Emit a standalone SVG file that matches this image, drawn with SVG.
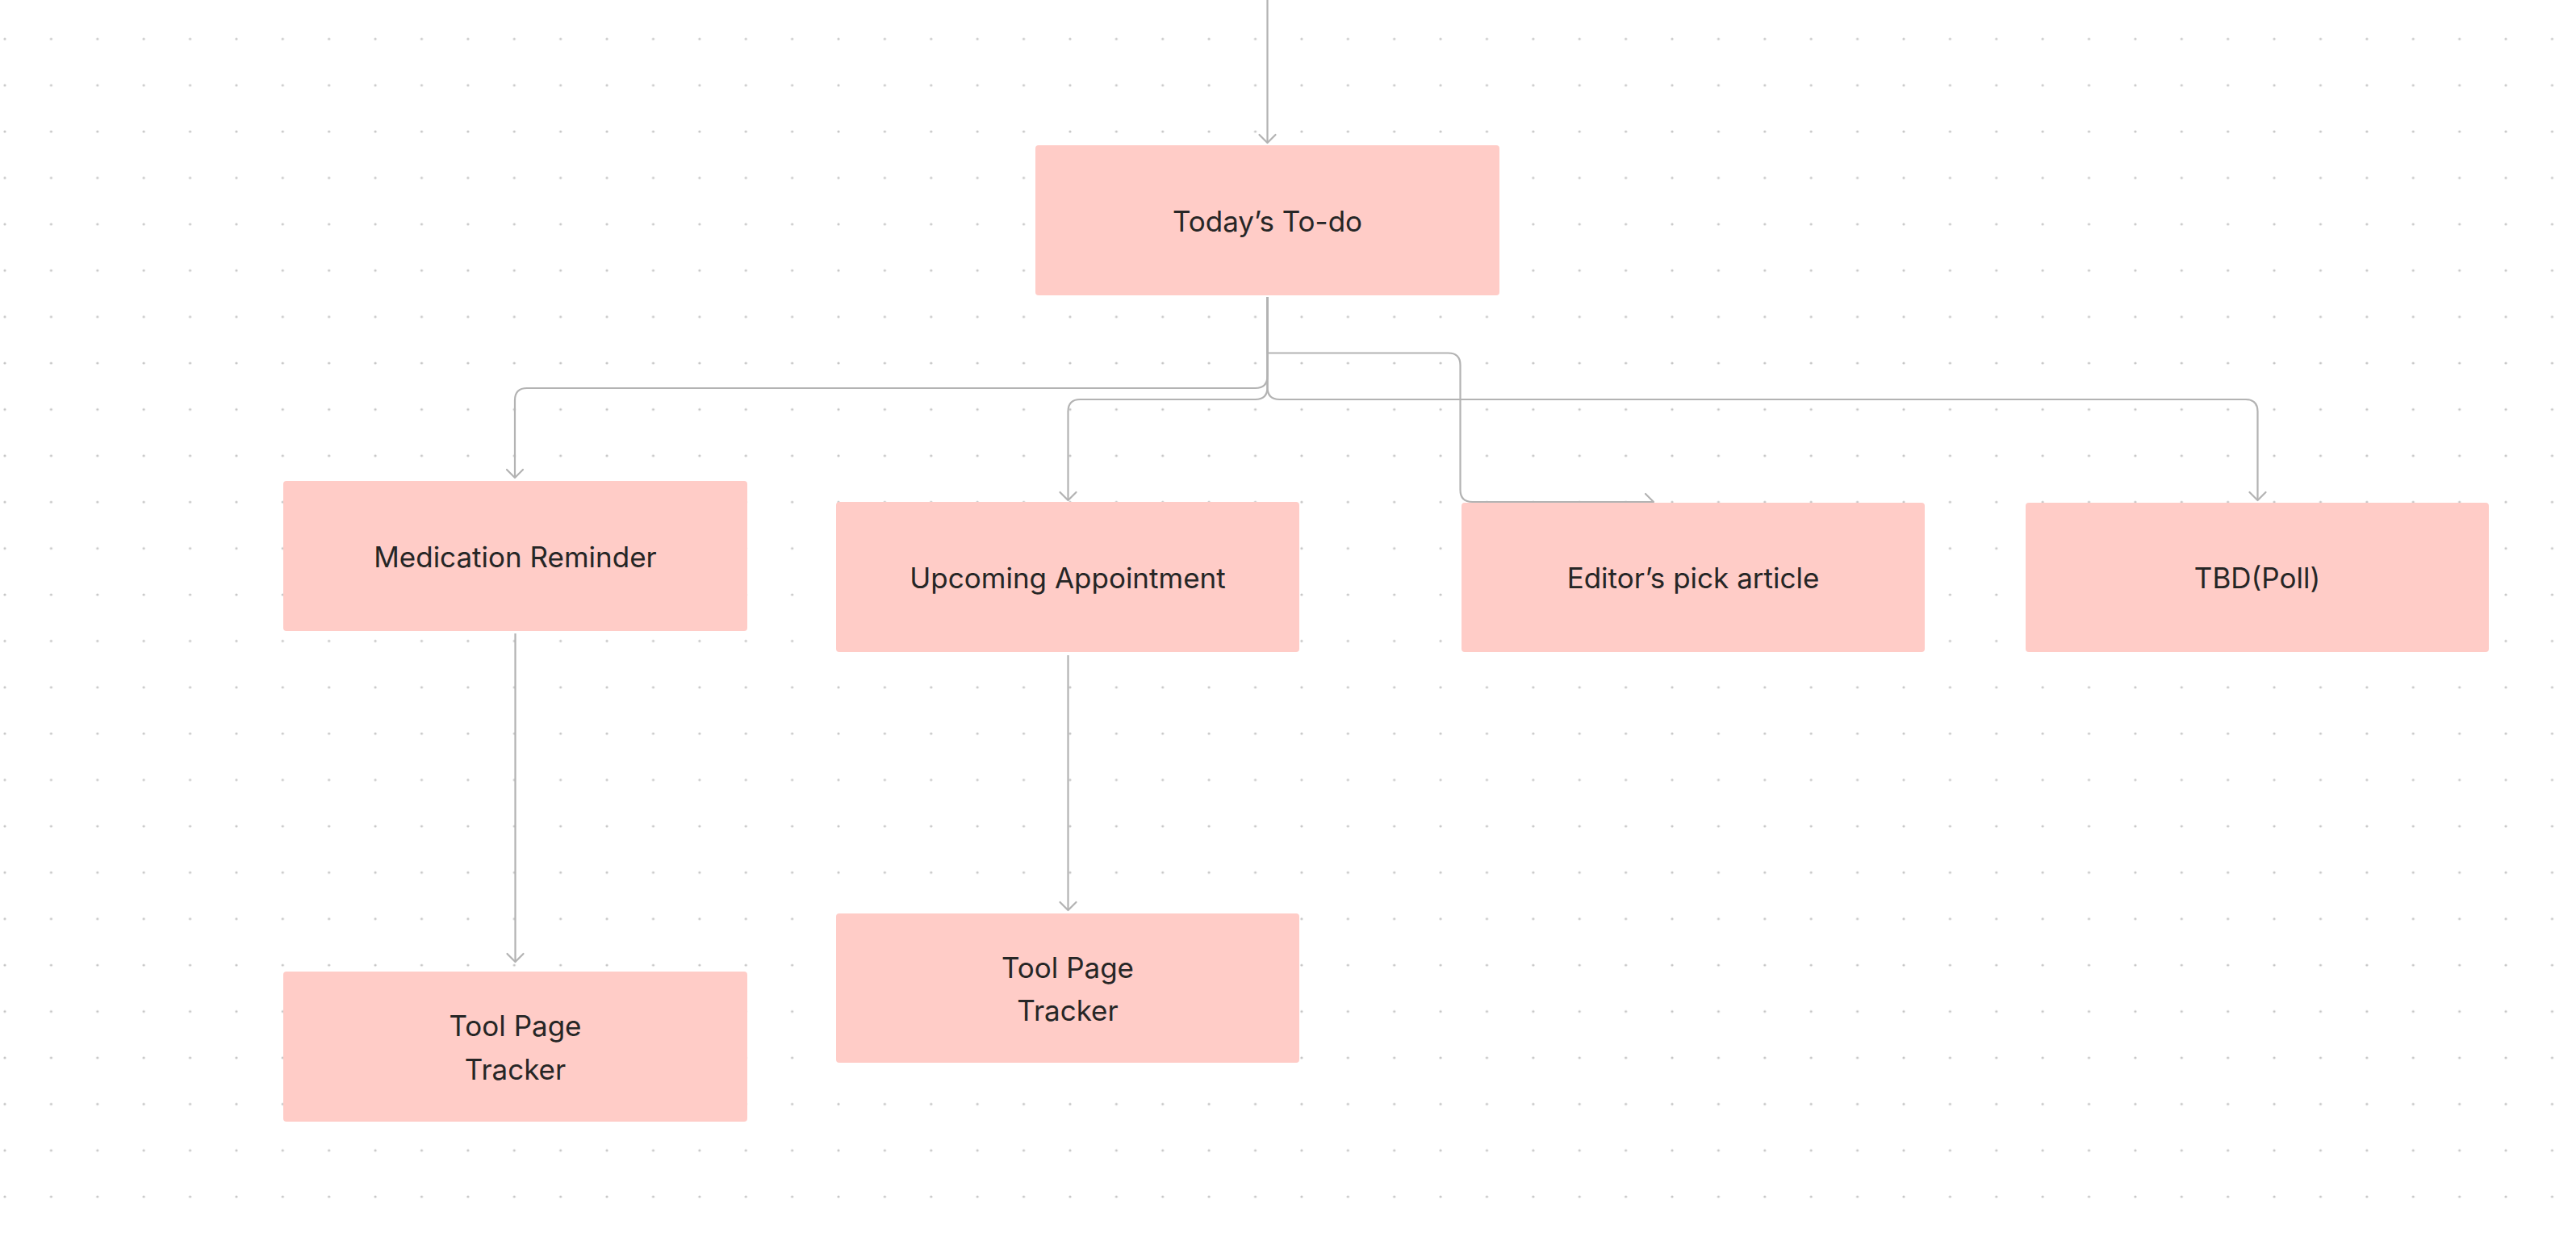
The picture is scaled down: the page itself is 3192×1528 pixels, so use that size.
<svg xmlns="http://www.w3.org/2000/svg" width="3192" height="1528" viewBox="0 0 3192 1528">
  <style>
    .box { fill: #ffccc7; }
    .lbl { font-family: Inter, "Liberation Sans", sans-serif; font-size: 35px; fill: #262626; text-anchor: middle; }
    .conn { fill: none; stroke: #b3b3b3; stroke-width: 2.2; stroke-linejoin: round; }
  </style>
  <defs>
    <pattern id="dots" patternUnits="userSpaceOnUse" x="-22.7" y="19.6" width="57.39" height="57.39">
      <circle cx="28.695" cy="28.695" r="1.6" fill="#c6c6c6"/>
    </pattern>
    <marker id="arrow" markerUnits="userSpaceOnUse" markerWidth="26" markerHeight="26" viewBox="-13 -13 26 26" refX="0" refY="0" orient="auto">
      <path d="M-10,-10 L0,0 L-10,10" fill="none" stroke="#b3b3b3" stroke-width="2.2" stroke-linecap="round" stroke-linejoin="round"/>
    </marker>
  </defs>

  <rect width="3192" height="1528" fill="#ffffff"/>
  <rect width="3192" height="1528" fill="url(#dots)"/>

  <g id="connectors">
    <path class="conn" d="M1570.5,0 V177" marker-end="url(#arrow)"/>
    <path class="conn" d="M1570.5,368 V466 Q1570.5,481 1555.5,481 H653 Q638,481 638,496 V592" marker-end="url(#arrow)"/>
    <path class="conn" d="M1570.5,368 V480 Q1570.5,495 1555.5,495 H1338.5 Q1323.5,495 1323.5,510 V620" marker-end="url(#arrow)"/>
    <path class="conn" d="M1570.5,368 V437.5 H1794.5 Q1809.5,437.5 1809.5,452.5 V607 Q1809.5,622 1824.5,622 H2049" marker-end="url(#arrow)"/>
    <path class="conn" d="M1570.5,368 V480 Q1570.5,495 1585.5,495 H2782.5 Q2797.5,495 2797.5,510 V620" marker-end="url(#arrow)"/>
    <path class="conn" d="M638.5,785 V1192" marker-end="url(#arrow)"/>
    <path class="conn" d="M1323.5,812 V1128" marker-end="url(#arrow)"/>
  </g>

  <g id="node-todo">
    <rect class="box" x="1283" y="180" width="575" height="186" rx="4"/>
    <text class="lbl" x="1570.5" y="286.5">Today’s To-do</text>
  </g>
  <g id="node-medication">
    <rect class="box" x="351" y="596" width="575" height="186" rx="4"/>
    <text class="lbl" x="638.5" y="702.5">Medication Reminder</text>
  </g>
  <g id="node-appointment">
    <rect class="box" x="1036" y="622" width="574" height="186" rx="4"/>
    <text class="lbl" x="1323" y="728.5">Upcoming Appointment</text>
  </g>
  <g id="node-editor">
    <rect class="box" x="1811" y="623" width="574" height="185" rx="4"/>
    <text class="lbl" x="2098" y="728.5">Editor’s pick article</text>
  </g>
  <g id="node-tbd">
    <rect class="box" x="2510" y="623" width="574" height="185" rx="4"/>
    <text class="lbl" x="2797" y="728.5">TBD(Poll)</text>
  </g>
  <g id="node-tool1">
    <rect class="box" x="351" y="1204" width="575" height="186" rx="4"/>
    <text class="lbl" x="638.5" y="1284">Tool Page</text>
    <text class="lbl" x="638.5" y="1337.5">Tracker</text>
  </g>
  <g id="node-tool2">
    <rect class="box" x="1036" y="1132" width="574" height="185" rx="4"/>
    <text class="lbl" x="1323" y="1212">Tool Page</text>
    <text class="lbl" x="1323" y="1265">Tracker</text>
  </g>
</svg>
